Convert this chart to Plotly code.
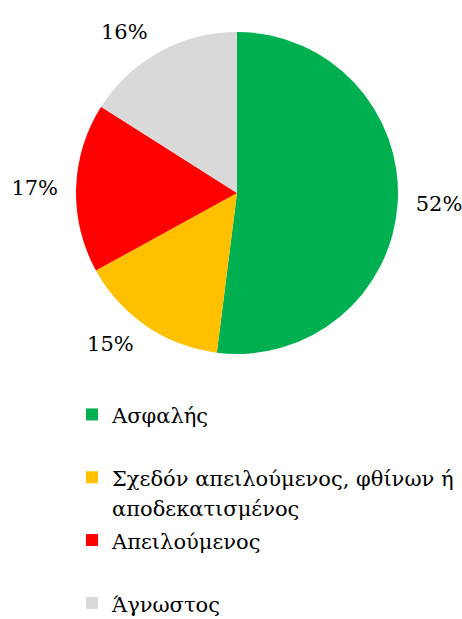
import plotly.graph_objects as go

categories = ["Ασφαλής", "Σχεδόν απειλούμενος, φθίνων ή<br>αποδεκατισμένος", "Απειλούμενος", "Άγνωστος"]
values = [52, 15, 17, 16]
colors = ["#00B050", "#FFC000", "#FF0000", "#D9D9D9"]

W, H = 462, 619
cx, cy, r = 237, 193, 161
rt = r + 12  # radius of the invisible label carrier

FONT = "DejaVu Serif"


def span(t):
    return '<span style="font-size:21px">' + t + '</span>'


# single-line entries get an empty second line so every entry takes two lines
legend_labels = [
    span(categories[0]) + "<br> ",
    "<br>".join(span(p) for p in categories[1].split("<br>")),
    span(categories[2]) + "<br> ",
    span(categories[3]),
]


def dom(rad):
    return dict(x=[(cx - rad) / W, (cx + rad) / W], y=[1 - (cy + rad) / H, 1 - (cy - rad) / H])


fig = go.Figure()
fig.add_trace(go.Pie(
    labels=legend_labels,
    values=values,
    marker=dict(colors=colors, line=dict(width=0)),
    sort=False,
    direction="clockwise",
    rotation=0,
    textinfo="none",
    domain=dom(r),
    hoverinfo="percent",
))
fig.add_trace(go.Pie(
    labels=legend_labels,
    values=values,
    marker=dict(colors=["rgba(0,0,0,0)"] * len(values), line=dict(width=0)),
    sort=False,
    direction="clockwise",
    rotation=0,
    textinfo="percent",
    textposition="outside",
    textfont=dict(family=FONT, size=21, color="black"),
    domain=dom(rt),
    showlegend=False,
    hoverinfo="skip",
))

fig.update_layout(
    width=W, height=H,
    margin=dict(l=0, r=0, t=0, b=0, autoexpand=False),
    paper_bgcolor="white",
    font=dict(family=FONT),
    showlegend=True,
    legend=dict(
        x=72 / W, xanchor="left",
        y=1 - 393 / H, yanchor="top",
        valign="top",
        font=dict(family=FONT, size=23, color="black"),
        tracegroupgap=0,
        itemclick=False,
    ),
)

fig.write_html("out.html", config={"displayModeBar": False},
               post_script="document.body.style.margin='0';")
